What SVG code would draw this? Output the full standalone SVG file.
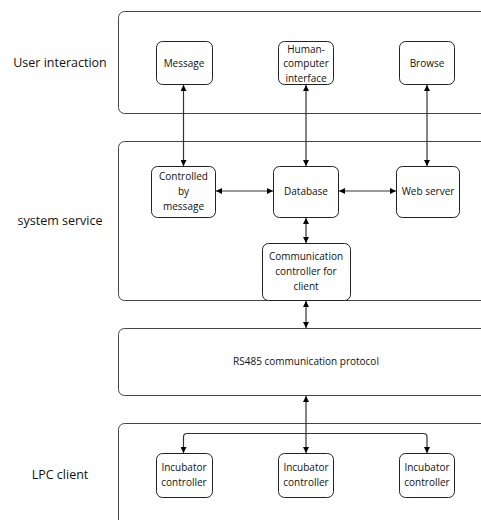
<svg xmlns="http://www.w3.org/2000/svg" width="481" height="520" viewBox="0 0 481 520">
<defs>
<marker id="ah" viewBox="0 0 10 10" refX="10" refY="5" markerWidth="6" markerHeight="6" orient="auto-start-reverse" markerUnits="userSpaceOnUse">
<path d="M0,0 L10,5 L0,10 z" fill="#000"/>
</marker>
<style>
.layer{fill:#fff;stroke:#444;stroke-width:1}
.node{fill:#fff;stroke:#222;stroke-width:1}
.t{font-family:"Open Sans","Noto Sans",sans-serif;font-size:10px;fill:#111;text-anchor:middle}
.lt{font-family:"Open Sans","Noto Sans",sans-serif;font-size:12.5px;fill:#111;text-anchor:middle}
.c{fill:none;stroke:#333;stroke-width:1.2}
</style>
</defs>
<rect width="481" height="520" fill="#fff"/>
<g id="layer-user">
<rect class="layer" x="118.5" y="11.5" width="380" height="102" rx="6"/>
<text class="lt" x="60" y="67">User interaction</text>
</g>
<g id="layer-system">
<rect class="layer" x="118.5" y="141.5" width="380" height="159" rx="6"/>
<text class="lt" x="60" y="225">system service</text>
</g>
<g id="layer-rs485">
<rect class="layer" x="118.5" y="328.5" width="380" height="67" rx="6"/>
<text class="t" x="306" y="365">RS485 communication protocol</text>
</g>
<g id="layer-lpc">
<rect class="layer" x="118.5" y="423.5" width="380" height="120" rx="6"/>
<text class="lt" x="60" y="479">LPC client</text>
</g>
<g id="node-message">
<rect class="node" x="156.5" y="41.5" width="56" height="43" rx="6"/>
<text class="t" x="184" y="66.5">Message</text>
</g>
<g id="node-hci">
<rect class="node" x="278.5" y="41.5" width="55" height="43" rx="6"/>
<text class="t" x="306" y="52.5">Human-</text>
<text class="t" x="306" y="67">computer</text>
<text class="t" x="306" y="81.5">interface</text>
</g>
<g id="node-browse">
<rect class="node" x="399.5" y="41.5" width="55" height="43" rx="6"/>
<text class="t" x="427" y="66.5">Browse</text>
</g>
<g id="node-controlled">
<rect class="node" x="151.5" y="166.5" width="64" height="51" rx="6"/>
<text class="t" x="183.5" y="180">Controlled</text>
<text class="t" x="183.5" y="195">by</text>
<text class="t" x="183.5" y="210">message</text>
</g>
<g id="node-database">
<rect class="node" x="273.5" y="166.5" width="65" height="51" rx="6"/>
<text class="t" x="306" y="195">Database</text>
</g>
<g id="node-webserver">
<rect class="node" x="396.5" y="166.5" width="63" height="51" rx="6"/>
<text class="t" x="428" y="195">Web server</text>
</g>
<g id="node-commctrl">
<rect class="node" x="262.5" y="243.5" width="88" height="57" rx="6"/>
<text class="t" x="306" y="260">Communication</text>
<text class="t" x="306" y="275">controller for</text>
<text class="t" x="306" y="290">client</text>
</g>
<g id="node-inc1">
<rect class="node" x="156.5" y="453.5" width="56" height="44" rx="6"/>
<text class="t" x="184" y="471">Incubator</text>
<text class="t" x="184" y="486">controller</text>
</g>
<g id="node-inc2">
<rect class="node" x="278.5" y="453.5" width="55" height="44" rx="6"/>
<text class="t" x="306" y="471">Incubator</text>
<text class="t" x="306" y="486">controller</text>
</g>
<g id="node-inc3">
<rect class="node" x="399.5" y="453.5" width="55" height="44" rx="6"/>
<text class="t" x="427" y="471">Incubator</text>
<text class="t" x="427" y="486">controller</text>
</g>
<g id="connectors">
<line class="c" x1="183.5" y1="85" x2="183.5" y2="166" marker-start="url(#ah)" marker-end="url(#ah)"/>
<line class="c" x1="306" y1="85" x2="306" y2="166" marker-start="url(#ah)" marker-end="url(#ah)"/>
<line class="c" x1="427" y1="85" x2="427" y2="166" marker-start="url(#ah)" marker-end="url(#ah)"/>
<line class="c" x1="216" y1="191" x2="273" y2="191" marker-start="url(#ah)" marker-end="url(#ah)"/>
<line class="c" x1="339" y1="191" x2="396" y2="191" marker-start="url(#ah)" marker-end="url(#ah)"/>
<line class="c" x1="306" y1="218" x2="306" y2="243" marker-start="url(#ah)" marker-end="url(#ah)"/>
<line class="c" x1="306" y1="301" x2="306" y2="328" marker-start="url(#ah)" marker-end="url(#ah)"/>
<line class="c" x1="306" y1="396" x2="306" y2="453" marker-start="url(#ah)" marker-end="url(#ah)"/>
<path class="c" d="M183.5,453 V437 Q183.5,433.5 187,433.5 H423.5 Q427,433.5 427,437 V453" marker-start="url(#ah)" marker-end="url(#ah)"/>
</g>
</svg>
